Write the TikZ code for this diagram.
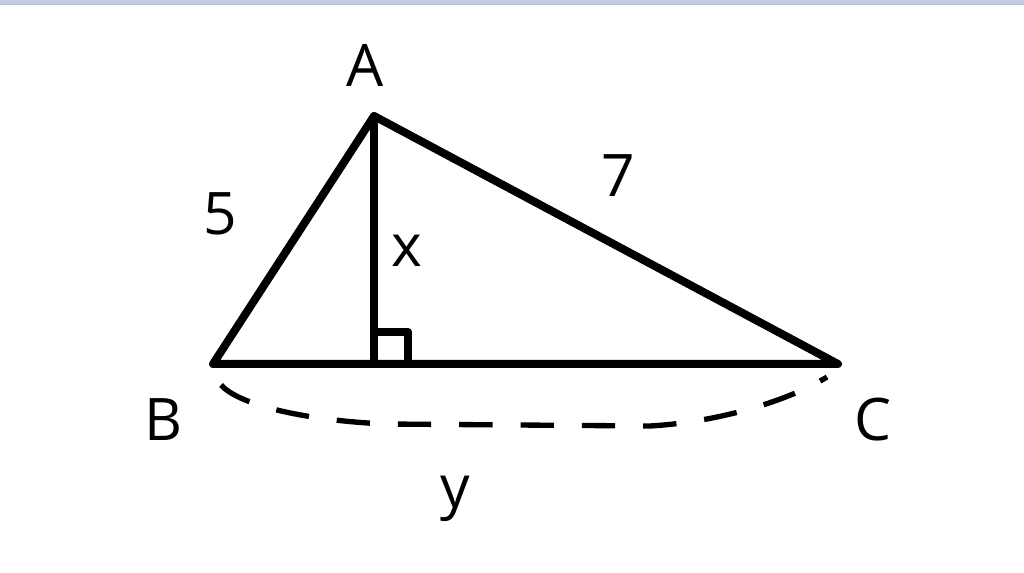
\documentclass[tikz,border=0pt]{standalone}
\usepackage{fontspec}
\setmainfont{Open Sans}
\definecolor{topbar}{HTML}{C5CDE0}
\definecolor{topline}{HTML}{B4C0D4}
\tikzset{
  edge/.style={line width=6pt, line join=round, line cap=round},
  dashcurve/.style={line width=4pt, dash pattern=on 25pt off 21pt},
  lbl/.style={font=\fontsize{44}{50}\selectfont, anchor=base, inner sep=0pt, text=black}
}
\begin{document}
\begin{tikzpicture}[x=0.75pt, y=-0.75pt]
\useasboundingbox (0,0) rectangle (1024,573);
\fill[white] (0,0) rectangle (1024,573);
\fill[topbar] (0,0) rectangle (1024,4);
\fill[topline] (0,4) rectangle (1024,5.5);
% vertices
\coordinate (A) at (374,116);
\coordinate (B) at (213,364);
\coordinate (C) at (838,364);
\coordinate (H) at (374,364);
\coordinate (D1) at (221,385);
\coordinate (D2) at (827,377);
% triangle and altitude
\draw[edge] (A) -- (B) -- (C) -- cycle;
\draw[edge] (A) -- (H);
\draw[edge] (374,332) -- (408,332) -- (408,364);
% dashed base curve
\draw[dashcurve] (D1) .. controls (238,404) and (300,420) .. (385,424) -- (650,426) .. controls (720,422) and (790,400) .. (D2);
% labels
\node[lbl] (lA) at (365,87) {A};
\node[lbl] (lB) at (164,440) {B};
\node[lbl] (lC) at (873,440) {C};
\node[lbl] (l5) at (220,235) {5};
\node[lbl] (l7) at (618,197) {7};
\node[lbl] (lx) at (407,267) {x};
\node[lbl] (ly) at (455,507) {y};
\end{tikzpicture}
\end{document}
